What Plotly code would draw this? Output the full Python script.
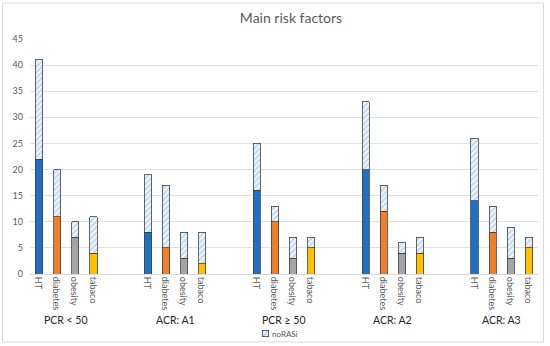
import plotly.graph_objects as go

groups = ["PCR < 50", "ACR: A1", "PCR ≥ 50", "ACR: A2", "ACR: A3"]
factors = ["HT", "diabetes", "obesity", "tabaco"]
factor_colors = ["#1F6FC5", "#F07F2A", "#A5A5A5", "#FFC000"]

# solid (RASi) part and hatched (noRASi) part, per group, per factor
rasi = [
    [22, 11, 7, 4],
    [8, 5, 3, 2],
    [16, 10, 3, 5],
    [20, 12, 4, 4],
    [14, 8, 3, 5],
]
norasi = [
    [19, 9, 3, 7],
    [11, 12, 5, 6],
    [9, 3, 4, 2],
    [13, 5, 2, 3],
    [12, 5, 6, 2],
]
legend_name = "noRASi"

W, H = 550, 346
ML, MR, MT, MB = 30, 12, 39, 0
PW, PH = W - ML - MR, H - MT - MB
AXIS_BOTTOM = 274  # pixel row of y = 0

def px_x(p):
    return (p - ML) / PW

def px_y(p):
    return (H - MB - p) / PH

xs, ticktext, base_vals, top_vals, base_cols = [], [], [], [], []
for g in range(len(groups)):
    for i, f in enumerate(factors):
        xs.append(g * 6 + i)
        ticktext.append(f)
        base_vals.append(rasi[g][i])
        top_vals.append(norasi[g][i])
        base_cols.append(factor_colors[i])

hatch = dict(shape="/", fgcolor="#8DB8E4", bgcolor="white", size=4, solidity=0.65)
outline = dict(color="#404040", width=0.8)

fig = go.Figure()
fig.add_trace(go.Bar(
    x=xs, y=base_vals, width=0.4, showlegend=False, name="RASi",
    marker=dict(color=base_cols, line=outline),
))
fig.add_trace(go.Bar(
    x=xs, y=top_vals, width=0.4, name=legend_name, showlegend=False,
    marker=dict(color="white", line=outline, pattern=hatch),
))
# small legend swatch drawn as a patterned bar on its own tiny axes
fig.add_trace(go.Bar(
    x=[0], y=[1], width=1, showlegend=False, hoverinfo="skip", cliponaxis=False,
    xaxis="x2", yaxis="y2",
    marker=dict(color="white", line=outline, pattern=hatch),
))

annotations = []
for g, name in enumerate(groups):
    annotations.append(dict(
        x=g * 6 + 1.5, xref="x", y=px_y(320), yref="paper",
        text=name, showarrow=False, xanchor="center", yanchor="middle",
        font=dict(size=10.5, color="#262626", family="Lato"),
    ))
annotations.append(dict(
    x=px_x(270), xref="paper", y=px_y(333.5), yref="paper", text=legend_name,
    showarrow=False, xanchor="left", yanchor="middle",
    font=dict(size=8, color="#595959", family="Lato"),
))

fig.update_layout(
    width=W, height=H,
    margin=dict(l=ML, r=MR, t=MT, b=MB),
    barmode="stack",
    showlegend=False,
    plot_bgcolor="white", paper_bgcolor="white",
    font=dict(family="Lato", color="#595959"),
    title=dict(text="Main risk factors", x=px_x(291), xref="paper", xanchor="center",
               y=1 - 18 / H, yanchor="middle",
               font=dict(size=14, color="#595959", family="Lato")),
    xaxis=dict(range=[-0.5, 27.5], tickmode="array", tickvals=xs, ticktext=ticktext,
               tickangle=90, tickfont=dict(size=9, color="#595959"),
               ticklabelshift=-1, automargin=False,
               showgrid=False, showline=True, linecolor="#D9D9D9", linewidth=1,
               ticks="", zeroline=False),
    yaxis=dict(range=[0, 45], dtick=5, tickfont=dict(size=9, color="#595959"),
               automargin=False, domain=[px_y(AXIS_BOTTOM), 1],
               ticklabelstandoff=6,
               showgrid=True, gridcolor="#E0E0E0", gridwidth=1, zeroline=False,
               ticks="", showline=False),
    xaxis2=dict(domain=[px_x(260), px_x(271)], range=[-0.8, 0.8], visible=False,
                anchor="y2", fixedrange=True),
    yaxis2=dict(domain=[px_y(339), px_y(328)], range=[-0.3, 1.3], visible=False,
                anchor="x2", fixedrange=True),
    annotations=annotations,
    shapes=[dict(type="rect", xref="paper", yref="paper",
                 x0=px_x(2.5), x1=px_x(543.5), y0=px_y(342), y1=px_y(3),
                 line=dict(color="#D9D9D9", width=1), fillcolor="rgba(0,0,0,0)",
                 layer="below")],
)

fig.write_html("out.html", post_script="document.body.style.margin='0';",
               config={"displayModeBar": False})
